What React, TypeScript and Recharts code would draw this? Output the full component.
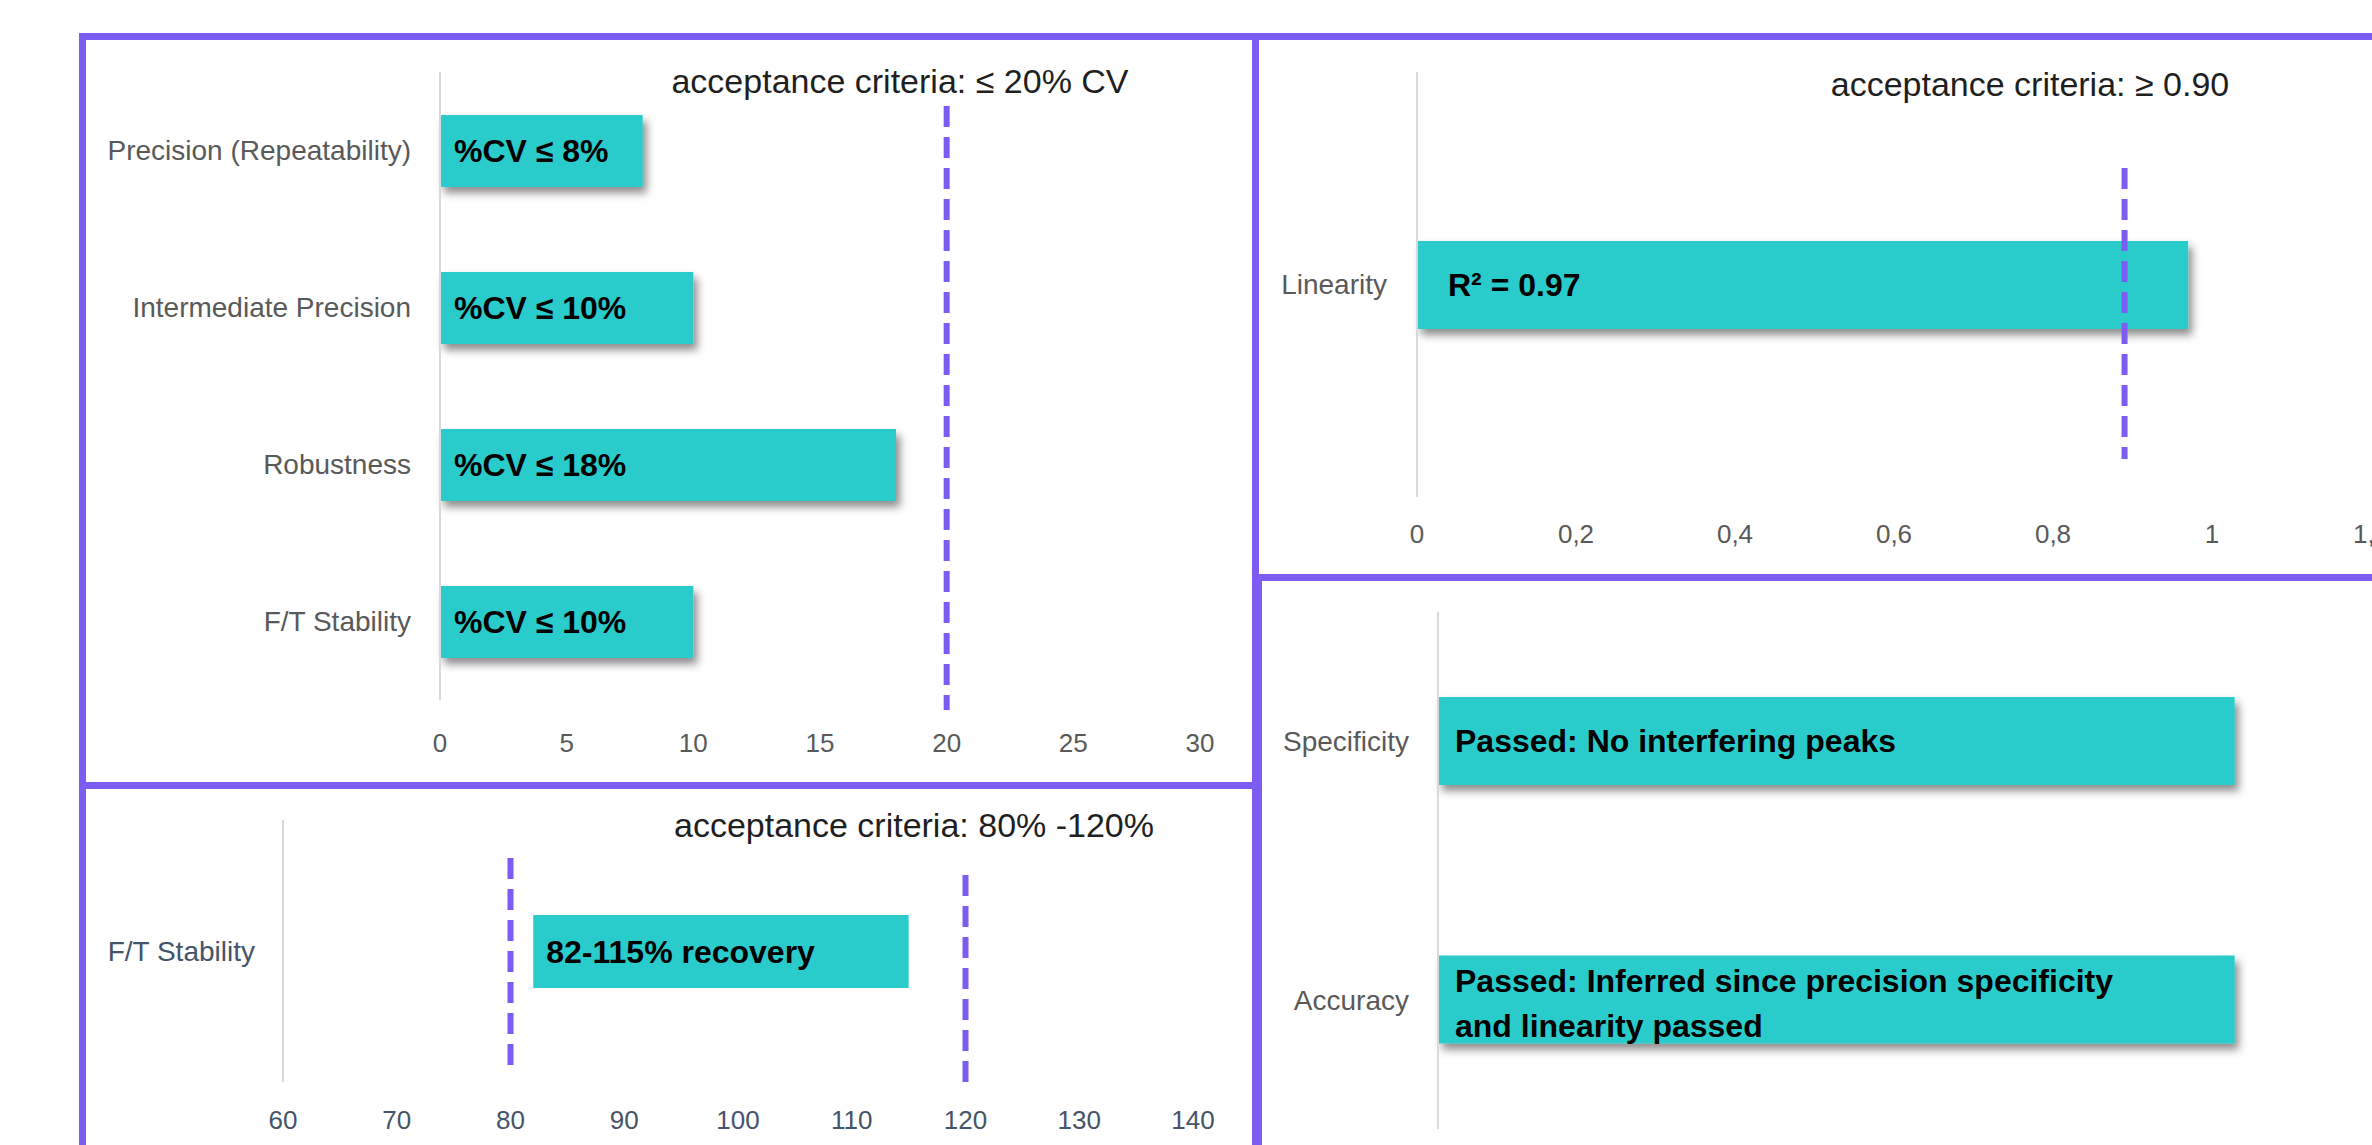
import React from "react";
import {
  BarChart,
  Bar,
  XAxis,
  YAxis,
  ReferenceLine,
  LabelList,
} from "recharts";

// precision panel
const precisionCategories = [
  "Precision (Repeatability)",
  "Intermediate Precision",
  "Robustness",
  "F/T Stability",
];
const precisionCv = [8, 10, 18, 10];
const precisionLabels = ["%CV ≤ 8%", "%CV ≤ 10%", "%CV ≤ 18%", "%CV ≤ 10%"];
const cvTicks = [0, 5, 10, 15, 20, 25, 30];
const cvLimit = 20;

// linearity panel
const linearityCategories = ["Linearity"];
const linearityR2 = [0.97];
const linearityLabels = ["R² = 0.97"];
const r2Ticks = [0, 0.2, 0.4, 0.6, 0.8, 1, 1.2];
const r2Limit = 0.89;

// recovery panel
const recoveryCategories = ["F/T Stability"];
const recoveryLow = [82];
const recoveryHigh = [115];
const recoveryLabels = ["82-115% recovery"];
const recoveryTicks = [60, 70, 80, 90, 100, 110, 120, 130, 140];
const recoveryLimits = [80, 120];

// pass / fail panel
const passCategories = ["Specificity", "Accuracy"];
const passValues = [1, 1];
const passLabels = [
  "Passed: No interfering peaks",
  "Passed: Inferred since precision specificity\nand linearity passed",
];

const FONT = "'Liberation Sans', Arial, sans-serif";
const TEAL = "#29CCCB";
const PURPLE = "#7C5CF2";
const GREY = "#595959";
const SLATE = "#44546A";

const precisionData = precisionCategories.map((name, i) => ({
  name,
  value: precisionCv[i],
  label: precisionLabels[i],
}));
const linearityData = linearityCategories.map((name, i) => ({
  name,
  value: linearityR2[i],
  label: linearityLabels[i],
}));
const recoveryData = recoveryCategories.map((name, i) => ({
  name,
  range: [recoveryLow[i], recoveryHigh[i]],
  label: recoveryLabels[i],
}));
const passData = passCategories.map((name, i) => ({
  name,
  value: passValues[i],
  label: passLabels[i],
}));

const ShadowBar = (props: any) => (
  <rect
    x={props.x}
    y={props.y}
    width={props.width}
    height={props.height}
    fill={props.fill}
    filter="url(#barShadow)"
  />
);

// dashed acceptance line, trimmed / stretched against the plot height
const dashShape = (topInset: number, bottomInset: number) => (p: any) => {
  const top = Math.min(p.y1, p.y2);
  const bottom = Math.max(p.y1, p.y2);
  return (
    <line
      x1={p.x1}
      x2={p.x2}
      y1={top + topInset}
      y2={bottom + bottomInset}
      stroke={PURPLE}
      strokeWidth={6}
      strokeDasharray="21 10"
    />
  );
};

const MultiLineLabel = (props: any) => {
  const { x, y, height, value } = props;
  const lines = String(value).split("\n");
  const lineH = 45;
  const startY = y + height / 2 - ((lines.length - 1) * lineH) / 2 + (lines.length > 1 ? 4 : 0);
  return (
    <text
      x={x + 17}
      fontFamily={FONT}
      fontSize={32}
      fontWeight="bold"
      fill="#000"
      dominantBaseline="central"
    >
      {lines.map((l, i) => (
        <tspan key={i} x={x + 17} y={startY + i * lineH}>
          {l}
        </tspan>
      ))}
    </text>
  );
};

const frame = (left: number, top: number, width: number, height: number) => ({
  position: "absolute" as const,
  left,
  top,
  width,
  height,
  border: `7px solid ${PURPLE}`,
  boxSizing: "border-box" as const,
});

const titleProps = {
  fontFamily: FONT,
  fontSize: 34,
  fill: "#1f1f1f",
  textAnchor: "middle" as const,
  dominantBaseline: "central" as const,
};

const labelStyle = { fontFamily: FONT, fontSize: 32, fontWeight: "bold", fill: "#000" };

export default function App() {
  return (
    <div
      style={{
        position: "absolute",
        left: 0,
        top: 0,
        width: 2372,
        height: 1145,
        overflow: "hidden",
        background: "#fff",
        fontFamily: FONT,
      }}
    >
      <svg width={0} height={0} style={{ position: "absolute" }}>
        <defs>
          <filter id="barShadow" x="-10%" y="-30%" width="130%" height="170%">
            <feDropShadow dx="4" dy="6" stdDeviation="4" floodColor="#000" floodOpacity="0.45" />
          </filter>
        </defs>
      </svg>

      <div style={frame(79, 33, 1180, 756)} />
      <div style={frame(1252, 33, 1200, 548)} />
      <div style={frame(79, 782, 1180, 500)} />
      <div style={frame(1255, 574, 1200, 700)} />

      {/* precision */}
      <div style={{ position: "absolute", left: 86, top: 40 }}>
        <BarChart
          width={1165}
          height={740}
          data={precisionData}
          layout="vertical"
          margin={{ top: 32, right: 51, bottom: 20, left: 0 }}
        >
          <text x={814} y={41} {...titleProps}>
            acceptance criteria: ≤ 20% CV
          </text>
          <XAxis
            type="number"
            domain={[0, 30]}
            ticks={cvTicks}
            axisLine={false}
            tickLine={false}
            tickSize={0}
            tickMargin={34}
            height={60}
            tick={{ fill: GREY, fontSize: 26, fontFamily: FONT }}
          />
          <YAxis
            type="category"
            dataKey="name"
            width={354}
            interval={0}
            tickLine={false}
            tickSize={0}
            tickMargin={29}
            axisLine={{ stroke: "#D9D9D9", strokeWidth: 2 }}
            tick={{ fill: GREY, fontSize: 28, fontFamily: FONT }}
          />
          <Bar dataKey="value" fill={TEAL} barSize={72} shape={ShadowBar} isAnimationActive={false}>
            <LabelList dataKey="label" position="insideLeft" offset={14} style={labelStyle} />
          </Bar>
          <ReferenceLine x={cvLimit} shape={dashShape(34, 10)} />
        </BarChart>
      </div>

      {/* linearity */}
      <div style={{ position: "absolute", left: 1259, top: 40 }}>
        <BarChart
          width={1200}
          height={535}
          data={linearityData}
          layout="vertical"
          margin={{ top: 32, right: 88, bottom: 18, left: 0 }}
        >
          <text x={771} y={44} {...titleProps}>
            acceptance criteria: ≥ 0.90
          </text>
          <XAxis
            type="number"
            domain={[0, 1.2]}
            ticks={r2Ticks}
            tickFormatter={(v: number) => String(v).replace(".", ",")}
            axisLine={false}
            tickLine={false}
            tickSize={0}
            tickMargin={28}
            height={60}
            tick={{ fill: GREY, fontSize: 26, fontFamily: FONT }}
          />
          <YAxis
            type="category"
            dataKey="name"
            width={158}
            interval={0}
            tickLine={false}
            tickSize={0}
            tickMargin={30}
            axisLine={{ stroke: "#D9D9D9", strokeWidth: 2 }}
            tick={{ fill: GREY, fontSize: 28, fontFamily: FONT }}
          />
          <Bar dataKey="value" fill={TEAL} barSize={88} shape={ShadowBar} isAnimationActive={false}>
            <LabelList dataKey="label" position="insideLeft" offset={31} style={labelStyle} />
          </Bar>
          <ReferenceLine x={r2Limit} shape={dashShape(96, -38)} />
        </BarChart>
      </div>

      {/* recovery */}
      <div style={{ position: "absolute", left: 86, top: 789 }}>
        <BarChart
          width={1165}
          height={356}
          data={recoveryData}
          layout="vertical"
          margin={{ top: 31, right: 58, bottom: 13, left: 0 }}
        >
          <text x={828} y={36} {...titleProps}>
            acceptance criteria: 80% -120%
          </text>
          <XAxis
            type="number"
            domain={[60, 140]}
            ticks={recoveryTicks}
            axisLine={false}
            tickLine={false}
            tickSize={0}
            tickMargin={29}
            height={50}
            tick={{ fill: SLATE, fontSize: 26, fontFamily: FONT }}
          />
          <YAxis
            type="category"
            dataKey="name"
            width={197}
            interval={0}
            tickLine={false}
            tickSize={0}
            tickMargin={28}
            axisLine={{ stroke: "#D9D9D9", strokeWidth: 2 }}
            tick={{ fill: SLATE, fontSize: 28, fontFamily: FONT }}
          />
          <Bar dataKey="range" fill={TEAL} barSize={73} isAnimationActive={false}>
            <LabelList dataKey="label" position="insideLeft" offset={13} style={labelStyle} />
          </Bar>
          <ReferenceLine x={recoveryLimits[0]} shape={dashShape(38, -16)} />
          <ReferenceLine x={recoveryLimits[1]} shape={dashShape(55, 1)} />
        </BarChart>
      </div>

      {/* specificity / accuracy */}
      <div style={{ position: "absolute", left: 1262, top: 581 }}>
        <BarChart
          width={1200}
          height={564}
          data={passData}
          layout="vertical"
          margin={{ top: 31, right: 68, bottom: 16, left: 0 }}
        >
          <XAxis type="number" domain={[0, 1.2]} hide />
          <YAxis
            type="category"
            dataKey="name"
            width={176}
            interval={0}
            tickLine={false}
            tickSize={0}
            tickMargin={29}
            axisLine={{ stroke: "#D9D9D9", strokeWidth: 2 }}
            tick={{ fill: GREY, fontSize: 28, fontFamily: FONT }}
          />
          <Bar dataKey="value" fill={TEAL} barSize={88} shape={ShadowBar} isAnimationActive={false}>
            <LabelList dataKey="label" content={MultiLineLabel} />
          </Bar>
        </BarChart>
      </div>
    </div>
  );
}
